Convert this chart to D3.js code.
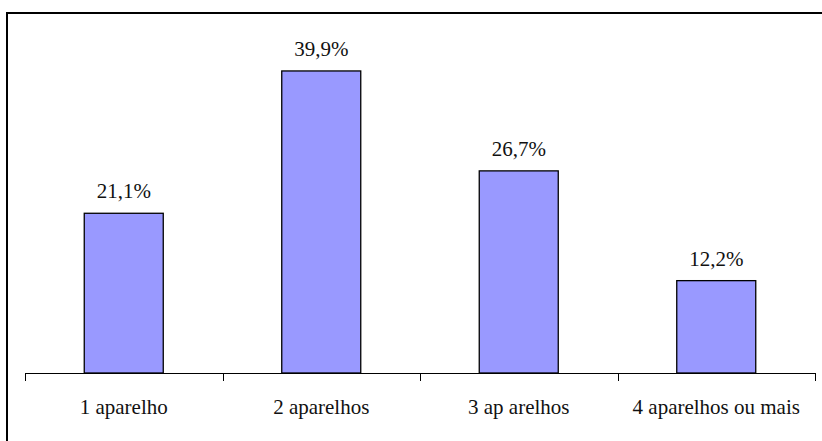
<!DOCTYPE html>
<html>
<head>
<meta charset="utf-8">
<script src="https://cdn.jsdelivr.net/npm/d3@7"></script>
</head>
<body style="margin:0">
<svg id="chart" width="822" height="441"></svg>
<script>
// Numero de aparelhos por domicilio (%)
const categories = ["1 aparelho", "2 aparelhos", "3 ap arelhos", "4 aparelhos ou mais"];
const values = [21.1, 39.9, 26.7, 12.2];
const valueLabels = ["21,1%", "39,9%", "26,7%", "12,2%"];

const svg = d3.select("#chart");
const W = 822, H = 441;
const margin = { left: 25, right: 7, top: 32, bottom: 68 };
const baseY = H - margin.bottom; // axis line
const FONT = "Liberation Serif";

// outer frame
svg.append("rect")
  .attr("x", 7).attr("y", 13)
  .attr("width", W + 10).attr("height", H + 10)
  .attr("fill", "#fff")
  .attr("stroke", "#000")
  .attr("stroke-width", 2);

const x = d3.scaleBand()
  .domain(categories)
  .range([margin.left, W - margin.right])
  .paddingInner(0.6)
  .paddingOuter(0.3);

const y = d3.scaleLinear()
  .domain([0, 45])
  .range([baseY, baseY - 45 * 7.57]);

// bars
svg.selectAll("rect.bar")
  .data(values)
  .join("rect")
  .attr("class", "bar")
  .attr("x", (d, i) => x(categories[i]))
  .attr("y", d => y(d))
  .attr("width", x.bandwidth())
  .attr("height", d => y(0) - y(d))
  .attr("fill", "#9999FF")
  .attr("stroke", "#000")
  .attr("stroke-width", 1.3);

// value labels
svg.selectAll("text.val")
  .data(values)
  .join("text")
  .attr("class", "val")
  .attr("x", (d, i) => x(categories[i]) + x.bandwidth() / 2)
  .attr("y", d => y(d) - 15)
  .attr("text-anchor", "middle")
  .attr("font-size", 21)
  .style("font-family", `"${FONT}"`)
  .attr("fill", "#111")
  .text((d, i) => valueLabels[i]);

// category axis: ticks between categories
const xr = x.range();
svg.append("line")
  .attr("x1", xr[0]).attr("x2", xr[1])
  .attr("y1", baseY + 0.5).attr("y2", baseY + 0.5)
  .attr("stroke", "#000").attr("stroke-width", 1);
const tickPos = d3.range(categories.length + 1).map(i => xr[0] + i * (xr[1] - xr[0]) / categories.length);
svg.selectAll("line.tick")
  .data(tickPos)
  .join("line")
  .attr("class", "tick")
  .attr("x1", d => Math.round(d) + 0.5).attr("x2", d => Math.round(d) + 0.5)
  .attr("y1", baseY).attr("y2", baseY + 8)
  .attr("stroke", "#000").attr("stroke-width", 1);

svg.selectAll("text.cat")
  .data(categories)
  .join("text")
  .attr("class", "cat")
  .attr("x", d => x(d) + x.bandwidth() / 2)
  .attr("y", baseY + 41)
  .attr("text-anchor", "middle")
  .attr("font-size", 21)
  .style("font-family", `"${FONT}"`)
  .attr("fill", "#111")
  .text(d => d);
</script>
</body>
</html>
